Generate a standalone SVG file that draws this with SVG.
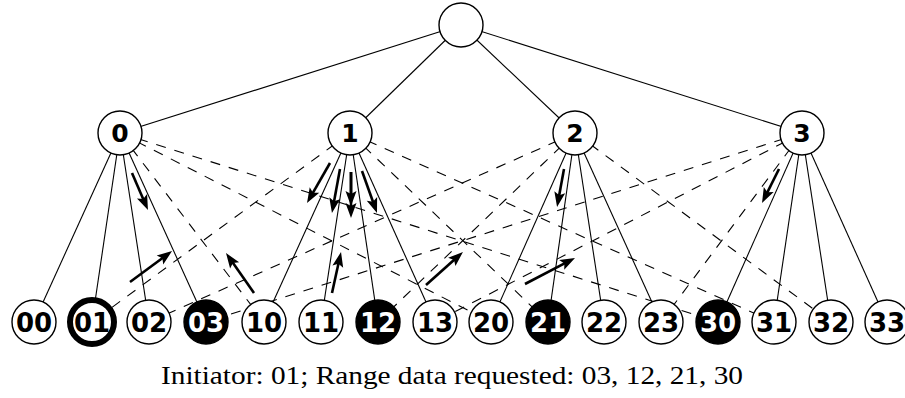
<svg xmlns="http://www.w3.org/2000/svg" width="905" height="398" viewBox="0 0 905 398">
  <style>
    .edge { stroke: #000; stroke-width: 1.1; fill: none; }
    .dash { stroke: #000; stroke-width: 1.1; fill: none; stroke-dasharray: 10 9; }
    .msg { stroke: #000; stroke-width: 2.6; fill: none; marker-end: url(#head); }
    .node circle { fill: #fff; stroke: #000; stroke-width: 1.4; }
    .node text { font-family: "DejaVu Sans", sans-serif; font-weight: bold; font-size: 26px; text-anchor: middle; fill: #000; }
    .node.req circle { fill: #000; }
    .node.req text { fill: #fff; }
    .node.init circle { stroke-width: 6; }
    .mid text { font-size: 25px; }
    .caption { font-family: "Liberation Serif", "DejaVu Serif", serif; font-size: 25px; text-anchor: middle; fill: #000; }
  </style>
  <defs>
    <marker id="head" markerUnits="userSpaceOnUse" markerWidth="15" markerHeight="11" refX="7" refY="5.5" orient="auto" overflow="visible">
      <path d="M0,0 L15,5.5 L0,11 L3,5.5 z" fill="#000"/>
    </marker>
  </defs>

  <g id="connectors">
    <!-- root to level-1 -->
    <line class="edge" x1="461" y1="25" x2="120" y2="133"/>
    <line class="edge" x1="461" y1="25" x2="350" y2="133"/>
    <line class="edge" x1="461" y1="25" x2="575" y2="133"/>
    <line class="edge" x1="461" y1="25" x2="802" y2="133"/>
    <!-- level-1 node i to leaves i0..i3 -->
    <line class="edge" x1="120" y1="133" x2="34" y2="322"/>
    <line class="edge" x1="120" y1="133" x2="92" y2="322"/>
    <line class="edge" x1="120" y1="133" x2="149" y2="322"/>
    <line class="edge" x1="120" y1="133" x2="206" y2="322"/>
    <line class="edge" x1="350" y1="133" x2="264" y2="322"/>
    <line class="edge" x1="350" y1="133" x2="321" y2="322"/>
    <line class="edge" x1="350" y1="133" x2="378" y2="322"/>
    <line class="edge" x1="350" y1="133" x2="435" y2="322"/>
    <line class="edge" x1="575" y1="133" x2="491" y2="322"/>
    <line class="edge" x1="575" y1="133" x2="548" y2="322"/>
    <line class="edge" x1="575" y1="133" x2="604" y2="322"/>
    <line class="edge" x1="575" y1="133" x2="661" y2="322"/>
    <line class="edge" x1="802" y1="133" x2="718" y2="322"/>
    <line class="edge" x1="802" y1="133" x2="774" y2="322"/>
    <line class="edge" x1="802" y1="133" x2="831" y2="322"/>
    <line class="edge" x1="802" y1="133" x2="887" y2="322"/>
    <!-- level-1 node i to leaves ji (dashed) -->
    <line class="dash" x1="120" y1="133" x2="264" y2="322"/>
    <line class="dash" x1="120" y1="133" x2="491" y2="322"/>
    <line class="dash" x1="120" y1="133" x2="718" y2="322"/>
    <line class="dash" x1="350" y1="133" x2="92" y2="322"/>
    <line class="dash" x1="350" y1="133" x2="548" y2="322"/>
    <line class="dash" x1="350" y1="133" x2="774" y2="322"/>
    <line class="dash" x1="575" y1="133" x2="149" y2="322"/>
    <line class="dash" x1="575" y1="133" x2="378" y2="322"/>
    <line class="dash" x1="575" y1="133" x2="831" y2="322"/>
    <line class="dash" x1="802" y1="133" x2="206" y2="322"/>
    <line class="dash" x1="802" y1="133" x2="435" y2="322"/>
    <line class="dash" x1="802" y1="133" x2="661" y2="322"/>
    <!-- messages -->
    <line class="msg" x1="132" y1="173" x2="144.8" y2="202.7"/>
    <line class="msg" x1="330" y1="163" x2="311" y2="196.1"/>
    <line class="msg" x1="340" y1="169" x2="333.4" y2="205.1"/>
    <line class="msg" x1="351" y1="172" x2="351" y2="198"/>
    <line class="msg" x1="351" y1="172" x2="351" y2="210"/>
    <line class="msg" x1="362" y1="171" x2="374.3" y2="205.5"/>
    <line class="msg" x1="130" y1="282" x2="165.6" y2="255.8"/>
    <line class="msg" x1="254" y1="293" x2="230.6" y2="259.6"/>
    <line class="msg" x1="332" y1="293" x2="339.3" y2="259.8"/>
    <line class="msg" x1="426" y1="285" x2="457" y2="257.3"/>
    <line class="msg" x1="525" y1="284" x2="567.9" y2="261.7"/>
    <line class="msg" x1="564" y1="169" x2="558.5" y2="199.1"/>
    <line class="msg" x1="779" y1="169" x2="765.6" y2="195.8"/>
  </g>

  <g id="root" class="node"><circle cx="461" cy="25" r="22"/></g>

  <g id="n0" class="node mid"><circle cx="120" cy="133" r="22"/><text x="120" y="142">0</text></g>
  <g id="n1" class="node mid"><circle cx="350" cy="133" r="22"/><text x="350" y="142">1</text></g>
  <g id="n2" class="node mid"><circle cx="575" cy="133" r="22"/><text x="575" y="142">2</text></g>
  <g id="n3" class="node mid"><circle cx="802" cy="133" r="22"/><text x="802" y="142">3</text></g>

  <g id="n00" class="node"><circle cx="34" cy="322" r="22"/><text x="34" y="332">00</text></g>
  <g id="n01" class="node init"><circle cx="92" cy="322" r="22"/><text x="92" y="332">01</text></g>
  <g id="n02" class="node"><circle cx="149" cy="322" r="22"/><text x="149" y="332">02</text></g>
  <g id="n03" class="node req"><circle cx="206" cy="322" r="22"/><text x="206" y="332">03</text></g>
  <g id="n10" class="node"><circle cx="264" cy="322" r="22"/><text x="264" y="332">10</text></g>
  <g id="n11" class="node"><circle cx="321" cy="322" r="22"/><text x="321" y="332">11</text></g>
  <g id="n12" class="node req"><circle cx="378" cy="322" r="22"/><text x="378" y="332">12</text></g>
  <g id="n13" class="node"><circle cx="435" cy="322" r="22"/><text x="435" y="332">13</text></g>
  <g id="n20" class="node"><circle cx="491" cy="322" r="22"/><text x="491" y="332">20</text></g>
  <g id="n21" class="node req"><circle cx="548" cy="322" r="22"/><text x="548" y="332">21</text></g>
  <g id="n22" class="node"><circle cx="604" cy="322" r="22"/><text x="604" y="332">22</text></g>
  <g id="n23" class="node"><circle cx="661" cy="322" r="22"/><text x="661" y="332">23</text></g>
  <g id="n30" class="node req"><circle cx="718" cy="322" r="22"/><text x="718" y="332">30</text></g>
  <g id="n31" class="node"><circle cx="774" cy="322" r="22"/><text x="774" y="332">31</text></g>
  <g id="n32" class="node"><circle cx="831" cy="322" r="22"/><text x="831" y="332">32</text></g>
  <g id="n33" class="node"><circle cx="887" cy="322" r="22"/><text x="887" y="332">33</text></g>

  <text class="caption" x="452" y="384" textLength="582" lengthAdjust="spacingAndGlyphs">Initiator: 01; Range data requested: 03, 12, 21, 30</text>
</svg>
